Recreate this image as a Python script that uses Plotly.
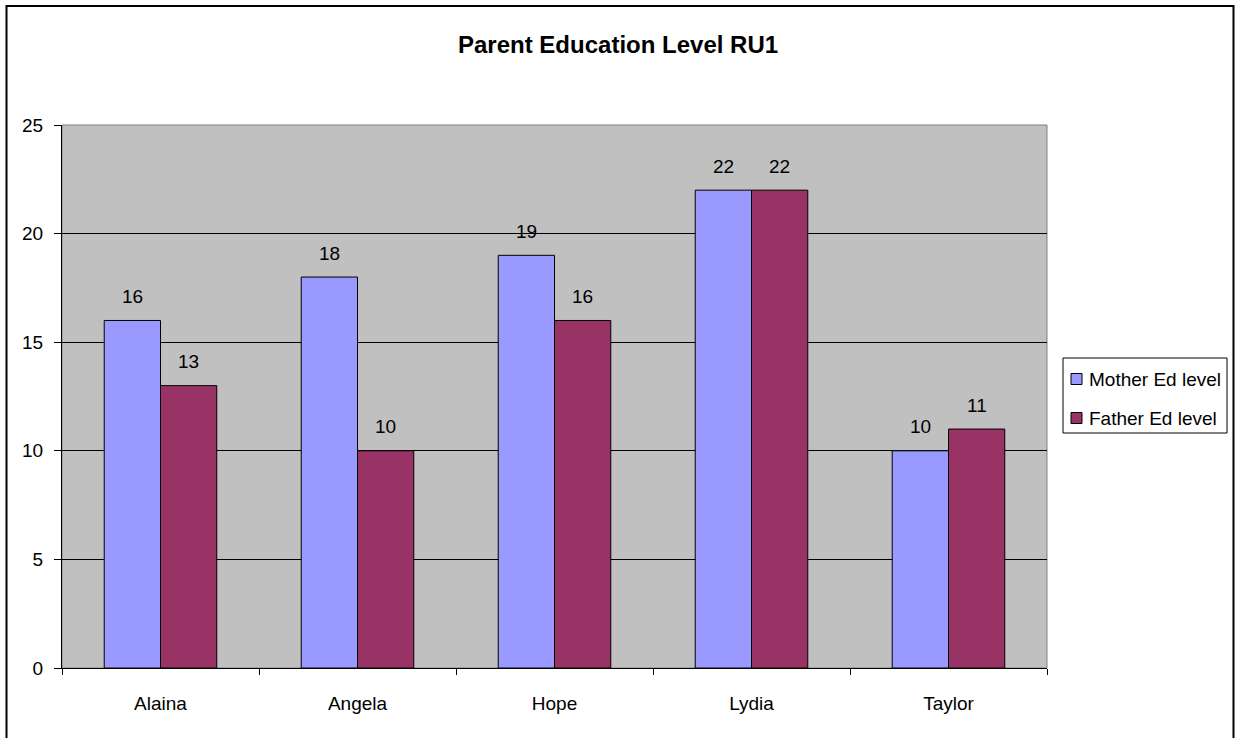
import plotly.graph_objects as go

categories = ["Alaina", "Angela", "Hope", "Lydia", "Taylor"]
series_names = ["Mother Ed level", "Father Ed level"]
mother = [16, 18, 19, 22, 10]
father = [13, 10, 16, 22, 11]
y_ticks = [0, 5, 10, 15, 20, 25]

colors = ["#9999FF", "#993366"]
FONT = "Liberation Sans, Arial, sans-serif"

W, H = 1236, 738
L, R, T, B = 62, 1047, 125, 668  # plot area in pixels
PW, PH = R - L, B - T


def px(x):
    return (x - L) / PW


def py(y):
    return (B - y) / PH


fig = go.Figure()
series = [mother, father]
for name, vals, col in zip(series_names, series, colors):
    fig.add_trace(go.Bar(
        x=categories, y=vals, name=name,
        marker=dict(color=col, line=dict(color="black", width=1)),
        showlegend=False,
    ))

gap = 0.4286
bw = (1 - gap) / 2
offsets = [-bw / 2, bw / 2]
annotations = []
for vals, off in zip(series, offsets):
    for j, v in enumerate(vals):
        annotations.append(dict(
            x=j + off, y=v, xref="x", yref="y", text=str(v), showarrow=False,
            yshift=24, yanchor="middle", font=dict(family=FONT, size=19, color="black"),
        ))

# Title
annotations.append(dict(
    x=px(618), y=py(45), xref="paper", yref="paper", text="<b>Parent Education Level RU1</b>",
    showarrow=False, font=dict(family=FONT, size=24, color="black"),
    xanchor="center", yanchor="middle",
))

shapes = []
# outer chart border
shapes.append(dict(type="rect", xref="paper", yref="paper",
                   x0=px(6.5), x1=px(1233.5), y0=py(745), y1=py(6),
                   line=dict(color="black", width=2), layer="above"))
# plot area border
shapes.append(dict(type="rect", xref="paper", yref="paper",
                   x0=0, x1=1, y0=0, y1=1,
                   line=dict(color="#808080", width=1), layer="below"))
# legend box
shapes.append(dict(type="rect", xref="paper", yref="paper",
                   x0=px(1063), x1=px(1227), y0=py(433), y1=py(358),
                   line=dict(color="black", width=1), fillcolor="white", layer="above"))
leg_y = [379, 418]
for name, col, yy in zip(series_names, colors, leg_y):
    shapes.append(dict(type="rect", xref="paper", yref="paper",
                       x0=px(1071), x1=px(1082), y0=py(yy + 5.5), y1=py(yy - 5.5),
                       line=dict(color="black", width=1), fillcolor=col, layer="above"))
    annotations.append(dict(
        x=px(1087), y=py(yy), xref="paper", yref="paper", text=name, showarrow=False,
        xanchor="left", yanchor="middle", font=dict(family=FONT, size=19, color="black"),
    ))

fig.update_layout(
    width=W, height=H, autosize=False,
    margin=dict(l=L, r=W - R, t=T, b=H - B, pad=0),
    paper_bgcolor="white", plot_bgcolor="#C0C0C0",
    barmode="group", bargap=gap, bargroupgap=0,
    font=dict(family=FONT, size=19, color="black"),
    showlegend=False,
    annotations=annotations, shapes=shapes,
)
fig.update_xaxes(
    type="category", tickson="boundaries", ticks="outside", ticklen=6,
    tickcolor="black", showline=True, linecolor="black", linewidth=1,
    showgrid=False, ticklabelstandoff=18,
    tickfont=dict(family=FONT, size=19, color="black"),
)
fig.update_yaxes(
    range=[0, 25], tickvals=y_ticks, ticks="outside", ticklen=7, tickcolor="black",
    showline=True, linecolor="black", linewidth=1, showgrid=True, gridcolor="#000000",
    gridwidth=1, zeroline=False, ticklabelstandoff=7,
    tickfont=dict(family=FONT, size=19, color="black"),
)

fig.write_html("out.html")
